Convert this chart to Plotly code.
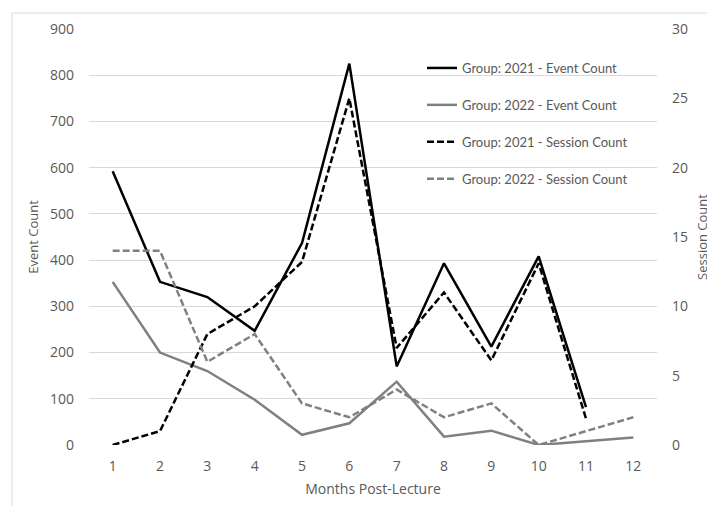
import plotly.graph_objects as go

months = [str(m) for m in range(1, 13)]

event_2021 = [592, 353, 320, 247, 437, 825, 170, 393, 213, 408, 82, None]
event_2022 = [353, 200, 160, 98, 22, 47, 137, 18, 31, 0, 8, 16]
session_2021 = [0, 1, 8, 10, 13.2, 25, 7, 11, 6.1, 13.1, 1.9, None]
session_2022 = [14, 14, 6, 8, 3, 2, 4, 2, 3, 0, 1, 2]

names = [
    "Group: 2021 - Event Count",
    "Group: 2022 - Event Count",
    "Group: 2021 - Session Count",
    "Group: 2022 - Session Count",
]

BLACK = "#000000"
GREY = "#808080"
TXT = "#595959"
GRID = "#d9d9d9"
FONT = "'Open Sans', sans-serif"
LFONT = "Lato, 'Open Sans', sans-serif"
DASH = "7px,3px"
LW = 2.5

fig = go.Figure()
fig.add_trace(go.Scatter(x=months, y=event_2021, name=names[0], mode="lines",
                         line=dict(color=BLACK, width=LW), yaxis="y", legendgroup="a"))
fig.add_trace(go.Scatter(x=months, y=event_2022, name=names[1], mode="lines",
                         line=dict(color=GREY, width=LW), yaxis="y", legendgroup="b"))
fig.add_trace(go.Scatter(x=months, y=session_2021, name=names[2], mode="lines",
                         line=dict(color=BLACK, width=LW, dash=DASH), yaxis="y2", legendgroup="c"))
fig.add_trace(go.Scatter(x=months, y=session_2022, name=names[3], mode="lines",
                         line=dict(color=GREY, width=LW, dash=DASH), yaxis="y2", legendgroup="d"))

OFF = 8  # page body margin
W, H = 715 - OFF, 506 - OFF
# plot area in window pixels: x 89..657, y 29..445
L, T = 89 - OFF, 29 - OFF
R, B = W - (657 - OFF), H - (445 - OFF)
pw, ph = W - L - R, H - T - B

def px_x(p):
    return (p - OFF - L) / pw

def px_y(p):
    return (H - B - (p - OFF)) / ph

fig.update_layout(
    width=W, height=H,
    margin=dict(l=L, r=R, t=T, b=B, pad=0, autoexpand=False),
    paper_bgcolor="white", plot_bgcolor="white",
    font=dict(family=FONT, color=TXT, size=14),
    showlegend=True,
    legend=dict(
        x=px_x(422), y=px_y(53), xanchor="left", yanchor="top",
        bgcolor="rgba(0,0,0,0)", borderwidth=0,
        font=dict(size=13, color=TXT, family=LFONT),
        traceorder="grouped", tracegroupgap=17,
    ),
    xaxis=dict(
        type="category", range=[-0.5, 11.5], automargin=False,
        showgrid=False, zeroline=False, showline=False,
        ticks="", ticklabelstandoff=11,
        tickfont=dict(size=14, color=TXT),
        title=dict(text="Months Post-Lecture", font=dict(size=14, color=TXT), standoff=10),
    ),
    yaxis=dict(
        range=[0, 900], dtick=100, tick0=0, automargin=False,
        showgrid=True, gridcolor=GRID, gridwidth=1,
        zeroline=False, showline=False, ticks="", ticklabelstandoff=14,
        tickfont=dict(size=14, color=TXT),
        title=dict(text="Event Count", font=dict(size=13, color=TXT), standoff=8),
    ),
    yaxis2=dict(
        range=[0, 30], dtick=5, tick0=0, overlaying="y", side="right", automargin=False,
        showgrid=False, zeroline=False, showline=False, ticks="", ticklabelstandoff=14,
        tickfont=dict(size=14, color=TXT),
        title=dict(text="Session Count", font=dict(size=13, color=TXT), standoff=10),
    ),
    shapes=[dict(
        type="rect", xref="paper", yref="paper",
        x0=px_x(12), x1=px_x(740), y0=px_y(530), y1=px_y(13),
        line=dict(color=GRID, width=1), fillcolor="rgba(0,0,0,0)", layer="below",
    )],
)

fig.write_html("out.html")
